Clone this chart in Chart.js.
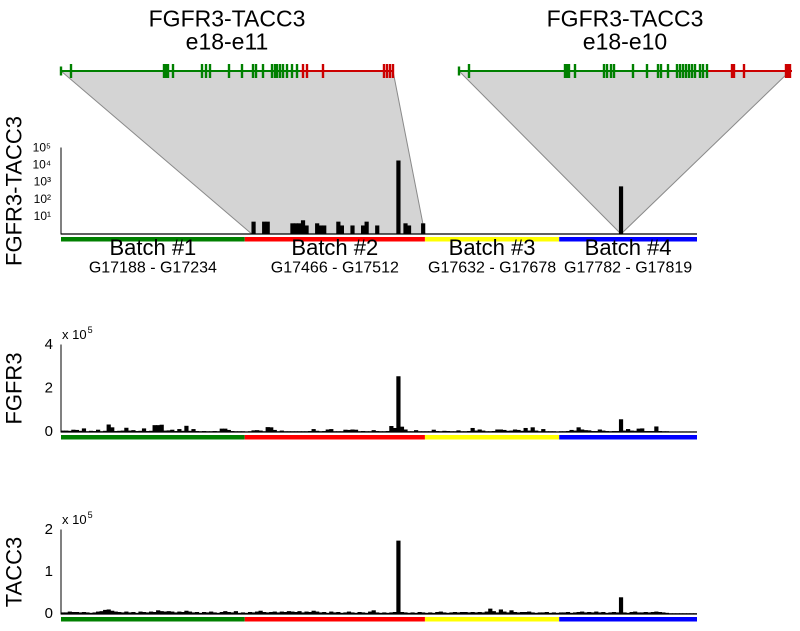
<!DOCTYPE html>
<html>
<head>
<meta charset="utf-8">
<script src="https://cdn.jsdelivr.net/npm/chart.js@4.4.1/dist/chart.umd.min.js"></script>
<style>
  body { margin: 0; background: #fff; }
  .panel { position: absolute; left: 0; }
</style>
</head>
<body>
<canvas id="fusionChart" class="panel" style="top:0px" width="800" height="290"></canvas>
<canvas id="fgfr3Chart" class="panel" style="top:320px" width="800" height="130"></canvas>
<canvas id="tacc3Chart" class="panel" style="top:505px" width="800" height="126"></canvas>
<script>
//Batches of samples along the x axis
const batchNames = ['Batch #1', 'Batch #2', 'Batch #3', 'Batch #4'];
const batchIds = ['G17188 - G17234', 'G17466 - G17512', 'G17632 - G17678', 'G17782 - G17819'];
const batchSizes = [52, 51, 38, 39];
const batchColors = ['#008000', '#ff0000', '#ffff00', '#0000ff'];

//Fusion transcripts drawn above the top panel
const fusionNames = ['FGFR3-TACC3', 'FGFR3-TACC3'];
const fusionJunctions = ['e18-e11', 'e18-e10'];
const transcriptLength = [334, 334];
const junctionPos = [240, 250];
const exonsFusion1 = [1, 11, 104, 106, 108, 113, 142, 146, 150, 169, 182, 193, 196, 203, 212, 215, 217, 220, 223, 227, 232, 237,
                      243, 247, 263, 324, 327, 330, 333];
const exonsFusion2 = [1, 11, 107, 109, 111, 117, 146, 149, 153, 156, 175, 189, 200, 203, 210, 219, 222, 225, 228, 231, 234, 237, 242, 245, 249,
                      274, 276, 286, 328, 330, 332];

//Fusion reads (sample index, read count, which junction)
const fusionSample = [54, 57, 58, 65, 66, 67, 68, 69, 72, 73, 74, 78, 79, 82, 85, 86, 89, 95, 97, 98, 102, 158];
const fusionReads  = [5, 5, 5, 4, 4, 4, 6, 3, 4, 3, 3, 5, 3, 3, 3, 5, 3, 18000, 4, 3, 4, 560];
const fusionType   = [0, 0, 0, 0, 0, 0, 0, 0, 0, 0, 0, 0, 0, 0, 0, 0, 0, 0, 0, 0, 0, 1];

const logTickValues = [10, 100, 1000, 10000, 100000];
const logTickLabels = ['10\u00b9', '10\u00b2', '10\u00b3', '10\u2074', '10\u2075'];

//FGFR3 expression per sample
const fgfr3Values = [
  5000, 5000, 4000, 9000, 8000, 4000, 15000, 2000, 4000, 3000,
  9000, 2000, 4000, 33000, 20000, 3000, 4000, 5000, 18000, 5000,
  7000, 3000, 4000, 15000, 3000, 4000, 30000, 30000, 32000, 5000,
  6000, 9000, 3000, 12000, 4000, 27000, 4000, 12000, 3000, 2000,
  3000, 2000, 2000, 3000, 2000, 14000, 14000, 8000, 3000, 2000,
  2000, 2000, 1000, 2000, 6000, 7000, 5000, 2000, 21000, 20000,
  8000, 2000, 5000, 2000, 2000, 2000, 2000, 2000, 2000, 2000,
  3000, 12000, 4000, 2000, 3000, 10000, 12000, 2000, 2000, 2000,
  9000, 8000, 10000, 9000, 2000, 3000, 2000, 2000, 7000, 3000,
  2000, 2000, 3000, 26000, 17000, 255000, 23000, 10000, 2000, 2000,
  7000, 2000, 2000, 2000, 2000, 9000, 3000, 2000, 4000, 3000,
  2000, 2000, 6000, 2000, 2000, 3000, 17000, 5000, 10000, 5000,
  2000, 2000, 3000, 10000, 10000, 8000, 4000, 5000, 10000, 8000,
  4000, 17000, 5000, 20000, 5000, 2000, 12000, 2000, 2000, 2000,
  1000, 2000, 2000, 3000, 8000, 5000, 20000, 10000, 7000, 6000,
  3000, 3000, 10000, 5000, 3000, 2000, 3000, 3000, 57000, 5000,
  12000, 5000, 4000, 14000, 15000, 3000, 3000, 3000, 24000, 3000,
  2000, 2000, 1000, 1000, 1000, 1000, 1000, 1000, 1000, 1000
];

//TACC3 expression per sample
const tacc3Values = [
  3000, 3000, 5000, 4000, 4000, 3000, 4000, 3000, 2000, 3000,
  5000, 6000, 9000, 10000, 7000, 5000, 4000, 3000, 5000, 3000,
  4000, 2000, 5000, 4000, 3000, 5000, 4000, 8000, 6000, 5000,
  6000, 5000, 3000, 5000, 4000, 7000, 5000, 3000, 4000, 2000,
  4000, 3000, 5000, 3000, 2000, 4000, 6000, 4000, 3000, 6000,
  2000, 3000, 2000, 4000, 3000, 5000, 7000, 4000, 3000, 4000,
  5000, 3000, 5000, 4000, 6000, 5000, 4000, 6000, 3000, 5000,
  4000, 7000, 5000, 3000, 4000, 2000, 5000, 3000, 4000, 2000,
  3000, 5000, 3000, 2000, 4000, 3000, 2000, 5000, 8000, 3000,
  2000, 3000, 2000, 3000, 4000, 174000, 4000, 3000, 2000, 3000,
  2000, 4000, 3000, 2000, 3000, 2000, 4000, 5000, 3000, 2000,
  3000, 4000, 3000, 4000, 4000, 3000, 4000, 3000, 4000, 3000,
  5000, 12000, 6000, 3000, 10000, 5000, 3000, 8000, 4000, 3000,
  4000, 4000, 5000, 3000, 2000, 3000, 3000, 4000, 2000, 3000,
  2000, 3000, 3000, 4000, 2000, 3000, 4000, 5000, 3000, 4000,
  3000, 5000, 3000, 4000, 2000, 3000, 4000, 3000, 39000, 3000,
  2000, 4000, 5000, 3000, 3000, 4000, 3000, 4000, 5000, 4000,
  3000, 2000, 1000, 1000, 1000, 1000, 1000, 1000, 1000, 1000
];

//Sample labels and fusion series
const sampleLabels = fgfr3Values.map((v, i) => 'S' + (i + 1));
const fusionValues = sampleLabels.map(() => null);
fusionSample.forEach((s, k) => { fusionValues[s] = fusionReads[k]; });

Chart.defaults.font.family = '"Liberation Sans", Arial, sans-serif';
Chart.defaults.color = '#000';

const FONT = '"Liberation Sans", Arial, sans-serif';
const TRACK_Y = 71;

//Pixel span of a run of samples on the category axis
function sampleSpan(xs, first, last) {
  const half = (xs.getPixelForValue(1) - xs.getPixelForValue(0)) / 2;
  if (first === last) {
    const c = xs.getPixelForValue(first);
    return [c, c];
  }
  return [xs.getPixelForValue(first) - half, xs.getPixelForValue(last) + half];
}

//Baseline, coloured batch strip, optional batch labels and exponent label
const batchStrip = {
  id: 'batchStrip',
  afterDatasetsDraw(chart, args, opts) {
    const {ctx, chartArea, scales: {x}} = chart;
    const yb = chartArea.bottom;
    ctx.save();
    ctx.strokeStyle = '#000';
    ctx.lineWidth = 1.2;
    ctx.beginPath();
    ctx.moveTo(chartArea.left, yb);
    ctx.lineTo(chartArea.right, yb);
    ctx.stroke();

    let start = 0;
    batchSizes.forEach((n, b) => {
      const [x0, x1] = sampleSpan(x, start, start + n - 1);
      ctx.fillStyle = batchColors[b];
      ctx.fillRect(x0, yb + 3, x1 - x0, 4.5);
      if (opts.labels) {
        const cx = (x0 + x1) / 2;
        ctx.fillStyle = '#000';
        ctx.textAlign = 'center';
        ctx.textBaseline = 'middle';
        ctx.font = '22px ' + FONT;
        ctx.fillText(batchNames[b], cx, yb + 15);
        ctx.font = '16px ' + FONT;
        ctx.fillText(batchIds[b], cx, yb + 34);
      }
      start += n;
    });

    if (opts.exponent) {
      ctx.fillStyle = '#000';
      ctx.textAlign = 'left';
      ctx.textBaseline = 'alphabetic';
      ctx.font = '13px ' + FONT;
      const tx = chartArea.left + 1;
      const ty = chartArea.top - 6;
      ctx.fillText('x 10', tx, ty);
      const w = ctx.measureText('x 10').width;
      ctx.font = '9px ' + FONT;
      ctx.fillText('5', tx + w + 1, ty - 6);
    }
    ctx.restore();
  }
};

//Fusion transcripts and the grey wedges down to the samples that carry them
const fusionTracks = {
  id: 'fusionTracks',
  beforeDatasetsDraw(chart, args, opts) {
    const {ctx, chartArea, scales: {x, xg}} = chart;
    const exonSets = [exonsFusion1, exonsFusion2];
    ctx.save();
    opts.trackStart.forEach((st, j) => {
      const ex = exonSets[j];
      const idx = fusionSample.filter((s, k) => fusionType[k] === j);
      const [b0, b1] = sampleSpan(x, Math.min(...idx), Math.max(...idx));
      ctx.beginPath();
      ctx.moveTo(xg.getPixelForValue(st + ex[0]), TRACK_Y);
      ctx.lineTo(xg.getPixelForValue(st + ex[ex.length - 1]), TRACK_Y);
      ctx.lineTo(b1, chartArea.bottom);
      ctx.lineTo(b0, chartArea.bottom);
      ctx.closePath();
      ctx.fillStyle = '#d4d4d4';
      ctx.fill();
      ctx.strokeStyle = '#8a8a8a';
      ctx.lineWidth = 1;
      ctx.stroke();

      //transcript line, FGFR3 part green, TACC3 part red
      const xj = xg.getPixelForValue(st + junctionPos[j]);
      ctx.lineWidth = 2;
      ctx.strokeStyle = '#008000';
      ctx.beginPath();
      ctx.moveTo(xg.getPixelForValue(st), TRACK_Y);
      ctx.lineTo(xj, TRACK_Y);
      ctx.stroke();
      ctx.strokeStyle = '#cc0000';
      ctx.beginPath();
      ctx.moveTo(xj, TRACK_Y);
      ctx.lineTo(xg.getPixelForValue(st + transcriptLength[j]), TRACK_Y);
      ctx.stroke();

      ctx.lineWidth = 2.4;
      ex.forEach((e, k) => {
        const px = xg.getPixelForValue(st + e);
        const h = k === 0 ? 4.5 : 7;
        ctx.strokeStyle = e < junctionPos[j] ? '#008000' : '#cc0000';
        ctx.beginPath();
        ctx.moveTo(px, TRACK_Y - h);
        ctx.lineTo(px, TRACK_Y + h);
        ctx.stroke();
      });

      const cx = xg.getPixelForValue(st + transcriptLength[j] / 2);
      ctx.fillStyle = '#000';
      ctx.textAlign = 'center';
      ctx.textBaseline = 'middle';
      ctx.font = '23px ' + FONT;
      ctx.fillText(fusionNames[j], cx, 20);
      ctx.fillText(fusionJunctions[j], cx, 43);
    });
    ctx.restore();
  }
};

function yAxis(title, extra) {
  return Object.assign({
    position: 'left',
    grid: { display: false, drawTicks: false },
    border: { display: true, color: '#000', width: 1 },
    title: { display: true, text: title, font: { size: 22 }, padding: { top: 2, bottom: 0 } },
    afterFit: s => { s.width = 61; }
  }, extra);
}

const xAxis = { type: 'category', display: false };

const baseOptions = {
  responsive: false,
  devicePixelRatio: 2,
  animation: false,
  events: [],
  plugins: { legend: { display: false }, tooltip: { enabled: false } }
};

//Top panel: fusion reads on a log axis
new Chart(document.getElementById('fusionChart'), {
  type: 'bar',
  data: {
    labels: sampleLabels,
    datasets: [{ data: fusionValues, backgroundColor: '#000', barPercentage: 1, categoryPercentage: 1 }]
  },
  options: Object.assign({}, baseOptions, {
    layout: { padding: { top: 148, bottom: 56, right: 103, left: 0 } },
    scales: {
      x: xAxis,
      xg: { type: 'linear', display: false, offset: false, min: 0, max: 636 },
      y: yAxis('FGFR3-TACC3', {
        type: 'logarithmic', min: 1, max: 100000,
        afterBuildTicks: s => { s.ticks = logTickValues.map(v => ({ value: v })); },
        ticks: { padding: 10, font: { size: 12 }, callback: (v, i) => logTickLabels[i] }
      })
    },
    plugins: Object.assign({}, baseOptions.plugins, {
      batchStrip: { labels: true, exponent: false },
      fusionTracks: { trackStart: [-1, 397] }
    })
  }),
  plugins: [fusionTracks, batchStrip]
});

//FGFR3 panel
new Chart(document.getElementById('fgfr3Chart'), {
  type: 'bar',
  data: {
    labels: sampleLabels,
    datasets: [{ data: fgfr3Values, backgroundColor: '#000', barPercentage: 1, categoryPercentage: 1 }]
  },
  options: Object.assign({}, baseOptions, {
    layout: { padding: { top: 25, bottom: 18, right: 103, left: 0 } },
    scales: {
      x: xAxis,
      y: yAxis('FGFR3', {
        min: 0, max: 400000,
        ticks: { stepSize: 200000, padding: 8, font: { size: 15 }, callback: v => v / 100000 }
      })
    },
    plugins: Object.assign({}, baseOptions.plugins, { batchStrip: { labels: false, exponent: true } })
  }),
  plugins: [batchStrip]
});

//TACC3 panel
new Chart(document.getElementById('tacc3Chart'), {
  type: 'bar',
  data: {
    labels: sampleLabels,
    datasets: [{ data: tacc3Values, backgroundColor: '#000', barPercentage: 1, categoryPercentage: 1 }]
  },
  options: Object.assign({}, baseOptions, {
    layout: { padding: { top: 25, bottom: 15, right: 103, left: 0 } },
    scales: {
      x: xAxis,
      y: yAxis('TACC3', {
        min: 0, max: 200000,
        ticks: { stepSize: 100000, padding: 8, font: { size: 15 }, callback: v => v / 100000 }
      })
    },
    plugins: Object.assign({}, baseOptions.plugins, { batchStrip: { labels: false, exponent: true } })
  }),
  plugins: [batchStrip]
});
</script>
</body>
</html>
